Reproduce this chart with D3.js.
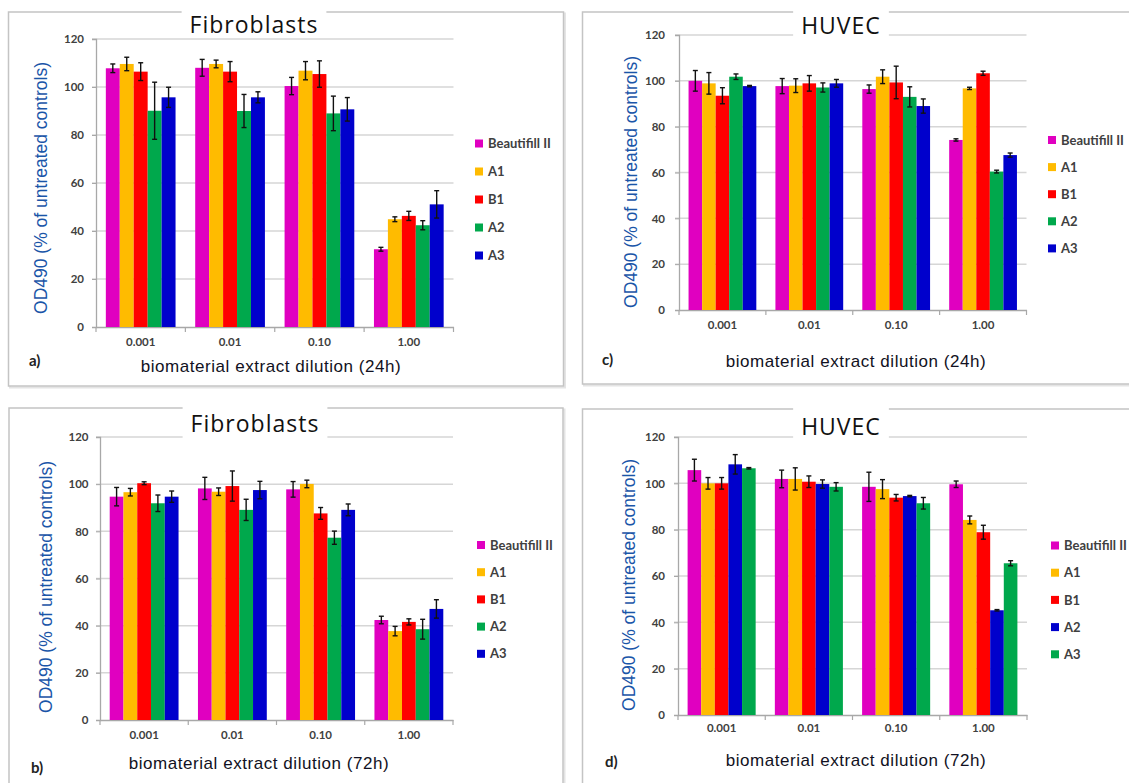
<!DOCTYPE html>
<html><head><meta charset="utf-8">
<script src="https://cdn.jsdelivr.net/npm/d3@7"></script>
<style>body{margin:0;background:#fff}svg{display:block}</style>
</head><body>
<svg id="chart" width="1129" height="783"></svg>
<script>
// ---- data ----
const categories = ["0.001", "0.01", "0.10", "1.00"];
const seriesNames = ["Beautifill II", "A1", "B1", "A2", "A3"];
const yTicks = [0, 20, 40, 60, 80, 100, 120];

// rows = categories, columns = series (Beautifill II, A1, B1, A2, A3)
const fib24Means = [[107.8, 109.6, 106.4, 90.1, 95.7], [108.0, 109.6, 106.4, 90.0, 95.7], [100.4, 106.8, 105.4, 89.0, 90.7], [32.4, 44.9, 46.3, 42.4, 51.1]];
const fib24Errs  = [[1.8, 2.8, 3.7, 11.9, 4.2], [3.5, 1.6, 4.2, 6.9, 2.3], [3.6, 3.8, 5.5, 7.2, 4.9], [0.8, 1.0, 1.9, 1.9, 5.7]];
const huv24Means = [[100.0, 98.9, 93.5, 101.8, 97.7], [97.7, 97.9, 98.9, 97.1, 98.9], [96.4, 101.8, 99.3, 93.0, 89.0], [74.2, 96.7, 103.3, 60.4, 67.6]];
const huv24Errs  = [[4.5, 4.7, 3.5, 1.2, 0.3], [3.3, 3.0, 3.4, 2.0, 1.7], [1.8, 3.0, 7.1, 4.4, 3.1], [0.5, 0.5, 0.9, 0.6, 0.9]];
const fib72Means = [[94.7, 96.6, 100.4, 91.9, 94.7], [98.2, 96.8, 99.2, 89.1, 97.5], [97.8, 100.1, 87.6, 77.3, 89.1], [42.4, 37.7, 41.6, 38.5, 47.1]];
const fib72Errs  = [[3.9, 1.6, 0.6, 3.5, 2.4], [4.7, 1.6, 6.4, 4.5, 3.7], [3.3, 1.6, 2.5, 2.8, 2.5], [1.6, 2.0, 1.3, 4.2, 3.9]];
const huv72Means = [[105.7, 100.0, 100.0, 108.2, 106.5], [101.9, 101.9, 100.7, 99.7, 98.5], [98.5, 97.5, 93.8, 94.5, 91.4], [99.6, 84.2, 78.9, 45.2, 65.5]];
const huv72Errs  = [[4.7, 2.5, 2.5, 4.2, 0.3], [3.8, 4.8, 2.5, 1.8, 1.8], [6.3, 4.1, 1.4, 0.3, 2.5], [1.4, 1.7, 3.0, 0.3, 1.1]];

// ---- styles ----
const MAG = "#E000C0", ORA = "#FFBB00", RED = "#FF0000", GRN = "#00A84C", BLU = "#0000CC";
const colorsStd = [MAG, ORA, RED, GRN, BLU];
const colorsD = [MAG, ORA, RED, BLU, GRN];

const panels = [
  {letter: "a)", title: "Fibroblasts", xlabel: "biomaterial extract dilution (24h)", means: fib24Means, errs: fib24Errs, colors: colorsStd,
   box: [8.5, 12, 555, 374], x0: 96, x1: 453.5, y0: 327, y120: 39, tickLabelX: 84, tickY: 346,
   titleX: 254, titleY: 33, boxBottom: 37, legX: 475, legY: 143.5, legStep: 28,
   letterX: 29, letterY: 366, xlabX: 271, xlabY: 372, ylabX: 41, ylabY: 188},
  {letter: "b)", title: "Fibroblasts", xlabel: "biomaterial extract dilution (72h)", means: fib72Means, errs: fib72Errs, colors: colorsStd,
   box: [9, 408, 554, 400], x0: 100, x1: 453, y0: 720, y120: 437, tickLabelX: 88.5, tickY: 739,
   titleX: 255, titleY: 432, boxBottom: 439, legX: 477, legY: 545, legStep: 27.2,
   letterX: 31, letterY: 773, xlabX: 259, xlabY: 769, ylabX: 45.5, ylabY: 587},
  {letter: "c)", title: "HUVEC", xlabel: "biomaterial extract dilution (24h)", means: huv24Means, errs: huv24Errs, colors: colorsStd,
   box: [582.5, 12, 560, 372], x0: 679, x1: 1026.5, y0: 310, y120: 35, tickLabelX: 665, tickY: 329,
   titleX: 841, titleY: 34, boxBottom: 38, legX: 1048, legY: 140, legStep: 27.1,
   letterX: 602, letterY: 365, xlabX: 856, xlabY: 367, ylabX: 631, ylabY: 182},
  {letter: "d)", title: "HUVEC", xlabel: "biomaterial extract dilution (72h)", means: huv72Means, errs: huv72Errs, colors: colorsD,
   box: [582.5, 409, 560, 400], x0: 678, x1: 1027, y0: 715, y120: 437, tickLabelX: 665, tickY: 732,
   titleX: 841, titleY: 435, boxBottom: 440, legX: 1051, legY: 545.5, legStep: 27.2,
   letterX: 605, letterY: 767, xlabX: 856, xlabY: 766, ylabX: 629, ylabY: 585}
];

const svg = d3.select("#chart");

panels.forEach(p => {
  const g = svg.append("g");
  // panel frame
  g.append("rect").attr("x", p.box[0] + 1.5).attr("y", p.box[1] + 1.5).attr("width", p.box[2]).attr("height", p.box[3])
    .attr("fill", "none").attr("stroke", "#e4e4e4").attr("stroke-width", 2);
  g.append("rect").attr("x", p.box[0]).attr("y", p.box[1]).attr("width", p.box[2]).attr("height", p.box[3])
    .attr("fill", "#fff").attr("stroke", "#c4c4c4").attr("stroke-width", 1.5);

  const x = d3.scaleBand().domain(categories).range([p.x0, p.x1]).padding(0);
  const y = d3.scaleLinear().domain([0, 120]).range([p.y0, p.y120]);
  const bw = x.bandwidth();
  const xs = d3.scaleBand().domain(seriesNames).range([bw * 0.11, bw * 0.89]).padding(0);

  // gridlines
  g.append("g").selectAll("line").data(yTicks.filter(t => t > 0)).join("line")
    .attr("x1", p.x0 - 4).attr("x2", p.x1).attr("y1", d => y(d)).attr("y2", d => y(d))
    .attr("stroke", "#d6d6d6").attr("stroke-width", 1.5);

  // y axis
  const yAxis = d3.axisLeft(y).tickValues(yTicks).tickSize(4).tickPadding(4);
  const ya = g.append("g").attr("transform", `translate(${p.x0},0)`).call(yAxis);
  ya.select(".domain").attr("stroke", "#a8a8a8").attr("stroke-width", 1.3);
  ya.selectAll(".tick line").attr("stroke", "#a8a8a8");
  ya.selectAll(".tick text").attr("x", p.tickLabelX - p.x0).attr("text-anchor", "end")
    .style("font-family", "Lato, sans-serif").style("font-weight", "bold").style("font-size", "11.5px").attr("fill", "#404040");

  // x axis
  const xAxis = d3.axisBottom(x).tickSize(0).tickPadding(0);
  const xa = g.append("g").attr("transform", `translate(0,${p.y0})`).call(xAxis);
  xa.select(".domain").attr("stroke", "#a8a8a8").attr("stroke-width", 1.3);
  xa.selectAll(".tick text").attr("y", p.tickY - p.y0).attr("dy", null)
    .style("font-family", "Lato, sans-serif").style("font-weight", "bold").style("font-size", "11.5px").attr("fill", "#404040");
  // category boundary tick marks
  const bounds = categories.map(c => x(c)).concat([p.x1]);
  g.append("g").selectAll("line").data(bounds).join("line")
    .attr("x1", d => d).attr("x2", d => d).attr("y1", p.y0).attr("y2", p.y0 + 5)
    .attr("stroke", "#a8a8a8").attr("stroke-width", 1.2);

  // bars
  const rows = [];
  categories.forEach((c, ci) => seriesNames.forEach((s, si) => rows.push({c, s, si, v: p.means[ci][si], e: p.errs[ci][si]})));
  g.append("g").selectAll("rect").data(rows).join("rect")
    .attr("x", d => x(d.c) + xs(d.s)).attr("width", xs.bandwidth())
    .attr("y", d => y(d.v)).attr("height", d => y(0) - y(d.v))
    .attr("fill", d => p.colors[d.si]);

  // error bars
  const eg = g.append("g").attr("stroke", "#111").attr("stroke-width", 1.4);
  rows.forEach(d => {
    const cx = x(d.c) + xs(d.s) + xs.bandwidth() / 2;
    eg.append("line").attr("x1", cx).attr("x2", cx).attr("y1", y(d.v - d.e)).attr("y2", y(d.v + d.e));
    eg.append("line").attr("x1", cx - 2.5).attr("x2", cx + 2.5).attr("y1", y(d.v - d.e)).attr("y2", y(d.v - d.e));
    eg.append("line").attr("x1", cx - 2.5).attr("x2", cx + 2.5).attr("y1", y(d.v + d.e)).attr("y2", y(d.v + d.e));
  });

  // title with white box
  const tg = g.append("g");
  const tr = tg.append("rect").attr("fill", "#fff");
  const t = tg.append("text").attr("x", p.titleX).attr("y", p.titleY).attr("text-anchor", "middle")
    .style("font-family", "'Open Sans', sans-serif").style("font-size", "23px").style("letter-spacing", "1px")
    .attr("fill", "#111").text(p.title);
  const tb = t.node().getBBox();
  tr.attr("x", tb.x - 8).attr("y", tb.y - 2).attr("width", tb.width + 16).attr("height", p.boxBottom - tb.y + 2);

  // legend
  const lg = g.append("g");
  seriesNames.forEach((s, i) => {
    const cy = p.legY + i * p.legStep;
    lg.append("rect").attr("x", p.legX).attr("y", cy - 4).attr("width", 8).attr("height", 8).attr("fill", p.colors[i]);
    lg.append("text").attr("x", p.legX + 13).attr("y", cy + 4.6)
      .style("font-family", "Lato, sans-serif").style("font-weight", "bold").style("font-size", "13px")
      .attr("fill", "#404040").text(s);
  });

  // axis labels
  g.append("text").attr("x", p.xlabX).attr("y", p.xlabY).attr("text-anchor", "middle")
    .style("font-family", "'Liberation Sans', Arial, sans-serif").style("font-size", "17px").style("letter-spacing", "0.55px")
    .attr("fill", "#111122").text(p.xlabel);
  g.append("text").attr("transform", `translate(${p.ylabX},${p.ylabY}) rotate(-90)`).attr("text-anchor", "middle")
    .attr("dominant-baseline", "central")
    .style("font-family", "'Liberation Sans', Arial, sans-serif").style("font-size", "17.5px")
    .attr("fill", "#1a55a8").text("OD490 (% of untreated controls)");

  // panel letter
  g.append("text").attr("x", p.letterX).attr("y", p.letterY)
    .style("font-family", "Lato, sans-serif").style("font-weight", "bold").style("font-size", "15px")
    .attr("fill", "#222").text(p.letter);
});
</script>
</body></html>
